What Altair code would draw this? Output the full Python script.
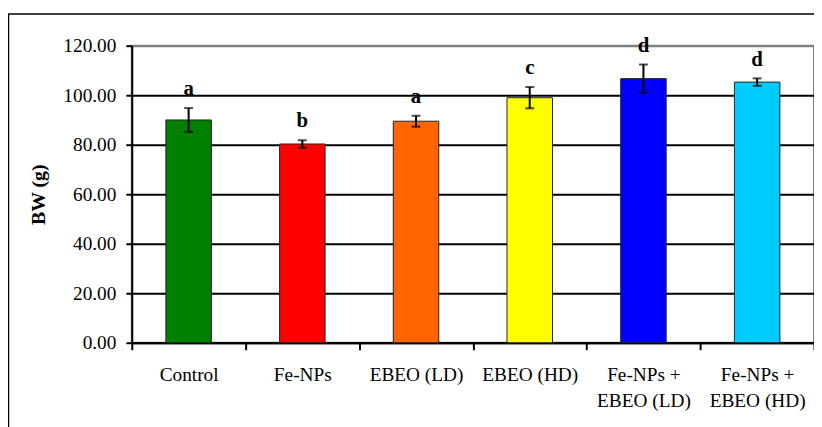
import altair as alt
import pandas as pd

categories = ["Control", "Fe-NPs", "EBEO (LD)", "EBEO (HD)",
              "Fe-NPs +\nEBEO (LD)", "Fe-NPs +\nEBEO (HD)"]
means = [90.0, 80.3, 89.5, 99.0, 106.7, 105.3]
sds = [4.8, 1.5, 2.2, 4.3, 5.7, 1.5]
letters = ["a", "b", "a", "c", "d", "d"]
colors = ["#008000", "#FF0000", "#FF6600", "#FFFF00", "#0000FF", "#00CCFF"]
y_ticks = [0, 20, 40, 60, 80, 100, 120]

df = pd.DataFrame({
    "group": categories,
    "mean": means,
    "lo": [m - s for m, s in zip(means, sds)],
    "hi": [m + s for m, s in zip(means, sds)],
    "letter": letters,
})

FONT = "Liberation Serif"

x_enc = alt.X(
    "group:N", sort=categories, title=None,
    scale=alt.Scale(paddingInner=0, paddingOuter=0),
    axis=alt.Axis(
        labelAngle=0, labelExpr="split(datum.label, '\\n')",
        labelLineHeight=26, labelPadding=16, tickBand="extent", tickSize=7,
        grid=False, labelBaseline="top",
    ),
)

y_scale = alt.Scale(domain=[0, 120], nice=False)

base = alt.Chart(df)

bars = base.mark_bar(
    width=alt.RelativeBandSize(0.4), stroke="#222222", strokeWidth=1
).encode(
    x=x_enc,
    y=alt.Y(
        "mean:Q", scale=y_scale, title="BW (g)",
        axis=alt.Axis(
            values=y_ticks, format=".2f", labelPadding=10, tickSize=6,
            grid=True, gridWidth=2,
            gridColor=alt.condition("datum.value == 120", alt.value("#808080"), alt.value("black")),
            titlePadding=15,
        ),
    ),
    color=alt.Color("group:N", sort=categories,
                    scale=alt.Scale(domain=categories, range=colors), legend=None),
)

err = base.mark_rule(color="black", strokeWidth=2).encode(
    x=alt.X("group:N", sort=categories),
    y=alt.Y("lo:Q", scale=y_scale),
    y2="hi:Q",
)

cap_lo = base.mark_tick(color="black", thickness=2, size=9).encode(
    x=alt.X("group:N", sort=categories),
    y=alt.Y("lo:Q", scale=y_scale),
)
cap_hi = base.mark_tick(color="black", thickness=2, size=9).encode(
    x=alt.X("group:N", sort=categories),
    y=alt.Y("hi:Q", scale=y_scale),
)

text = base.mark_text(
    font=FONT, fontSize=21, fontWeight="bold", color="black",
    baseline="alphabetic", dy=-13,
).encode(
    x=alt.X("group:N", sort=categories),
    y=alt.Y("hi:Q", scale=y_scale),
    text="letter:N",
)

frame = alt.Chart(alt.Data(values=[{"a": 1}])).mark_rect(
    fill=None, stroke="black", strokeWidth=1.5, clip=False
).encode(
    x=alt.value(-124.5), x2=alt.value(760),
    y=alt.value(-32), y2=alt.value(400),
)

chart = alt.layer(frame, bars, err, cap_lo, cap_hi, text).properties(
    width=689, height=300,
    background="white",
    autosize=alt.AutoSizeParams(type="none"),
    padding={"left": 125, "top": 36, "right": 0, "bottom": 83},
).configure_view(
    stroke="#808080", strokeWidth=2
).configure_axis(
    labelFont=FONT, labelFontSize=19.5, labelColor="black",
    tickColor="black", tickWidth=2, domainColor="black", domainWidth=2,
    titleFont=FONT, titleFontSize=20, titleFontWeight="bold", titleColor="black",
)

chart.save("out.html", embed_options={"renderer": "svg", "actions": False})
